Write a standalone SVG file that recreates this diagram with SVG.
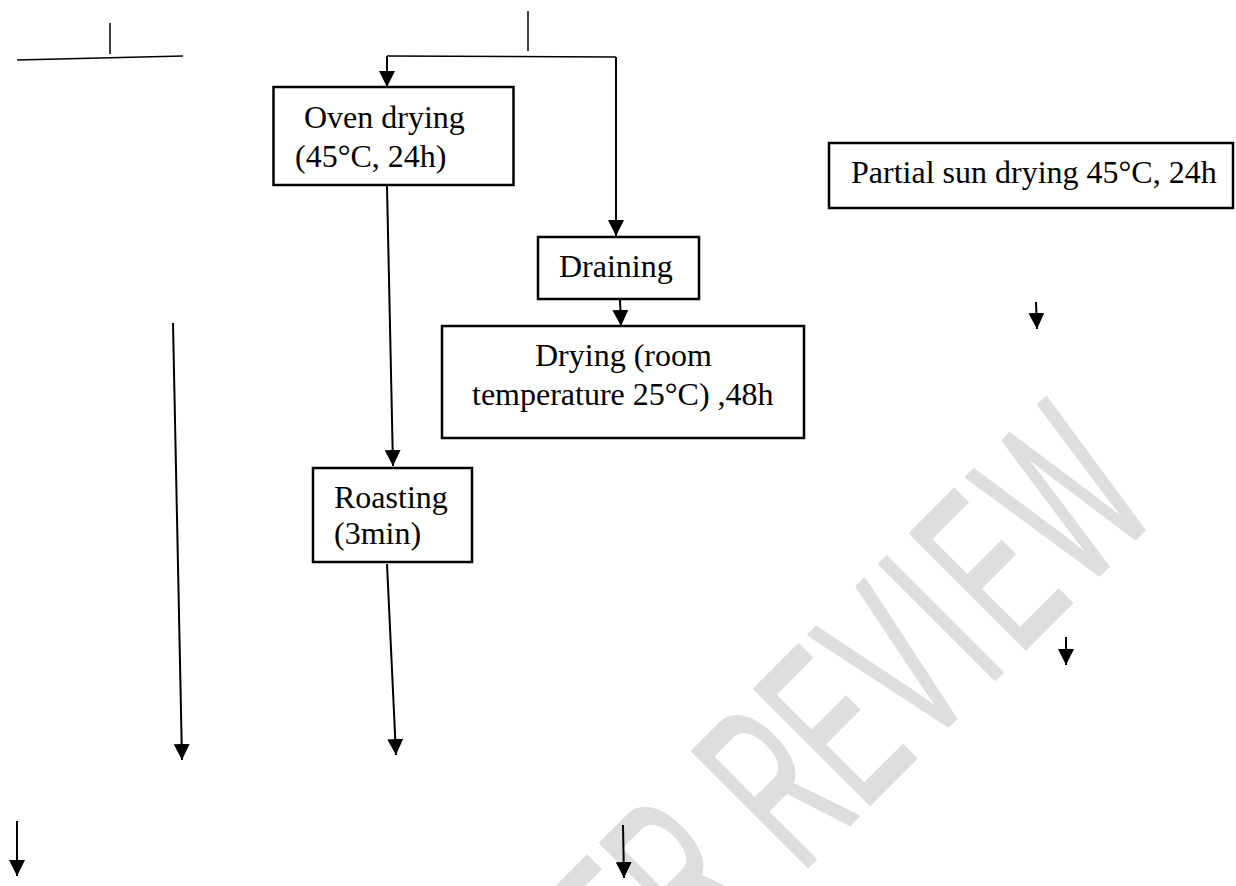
<svg xmlns="http://www.w3.org/2000/svg" width="1236" height="886" viewBox="0 0 1236 886">
  <style>
    .box { fill: #ffffff; stroke: #000000; stroke-width: 2.5; }
    .lbl { font-family: "Liberation Serif", "Times New Roman", serif; font-size: 32px; fill: #000000; }
    .con { fill: none; stroke: #000000; stroke-width: 2; }
    .thin { fill: none; stroke: #000000; stroke-width: 1.5; }
    .wm { font-family: "Liberation Sans", Arial, sans-serif; font-size: 237px; fill: #dedede; stroke: #dedede; stroke-width: 3; stroke-linejoin: round; }
  </style>
  <defs>
    <marker id="ah" markerUnits="userSpaceOnUse" markerWidth="16" markerHeight="16" viewBox="0 0 16 16" refX="16" refY="8" orient="auto">
      <path d="M0,0 L16,8 L0,16 z" fill="#000000"/>
    </marker>
  </defs>
  <rect x="0" y="0" width="1236" height="886" fill="#ffffff"/>

  <g id="watermark">
    <text class="wm" transform="translate(840,840) rotate(-45) scale(0.514,1)" x="-1735 -1564 -1393 -1222 -1064 -893 -827 -669 -512 -354 -183 -101 70 237 411 498 671" y="-4">UNDER PEER REVIEW</text>
  </g>

  <g id="connectors">
    <line class="thin" x1="17" y1="60" x2="183" y2="56"/>
    <line class="thin" x1="110" y1="23" x2="110" y2="54"/>
    <line class="thin" x1="528" y1="11" x2="528" y2="51"/>
    <polyline class="thin" points="387,56 616,57"/>
    <line class="con" x1="387" y1="56" x2="387" y2="87" marker-end="url(#ah)"/>
    <line class="con" x1="616" y1="57" x2="616" y2="236" marker-end="url(#ah)"/>
    <line class="con" x1="620" y1="300" x2="621" y2="326" marker-end="url(#ah)"/>
    <line class="con" x1="387" y1="186" x2="393" y2="466" marker-end="url(#ah)"/>
    <line class="con" x1="387" y1="564" x2="396" y2="755" marker-end="url(#ah)"/>
    <line class="con" x1="173" y1="323" x2="182" y2="760" marker-end="url(#ah)"/>
    <line class="con" x1="17" y1="821" x2="17" y2="876" marker-end="url(#ah)"/>
    <line class="con" x1="623" y1="825" x2="624" y2="878" marker-end="url(#ah)"/>
    <line class="con" x1="1036" y1="302" x2="1037" y2="329" marker-end="url(#ah)"/>
    <line class="con" x1="1066" y1="637" x2="1066" y2="665" marker-end="url(#ah)"/>
  </g>

  <g id="oven-drying">
    <rect class="box" x="273.5" y="87" width="240" height="98"/>
    <text class="lbl" x="304" y="128">Oven drying</text>
    <text class="lbl" x="295" y="167">(45°C, 24h)</text>
  </g>

  <g id="partial-sun-drying">
    <rect class="box" x="829" y="143" width="404" height="65"/>
    <text class="lbl" x="851" y="183">Partial sun drying 45°C, 24h</text>
  </g>

  <g id="draining">
    <rect class="box" x="538" y="237" width="161" height="62"/>
    <text class="lbl" x="559" y="277">Draining</text>
  </g>

  <g id="drying-room">
    <rect class="box" x="442" y="326" width="362" height="112"/>
    <text class="lbl" x="535" y="366">Drying (room</text>
    <text class="lbl" x="472" y="405">temperature 25°C) ,48h</text>
  </g>

  <g id="roasting">
    <rect class="box" x="313" y="468" width="159" height="94"/>
    <text class="lbl" x="334" y="508">Roasting</text>
    <text class="lbl" x="334" y="544">(3min)</text>
  </g>
</svg>
